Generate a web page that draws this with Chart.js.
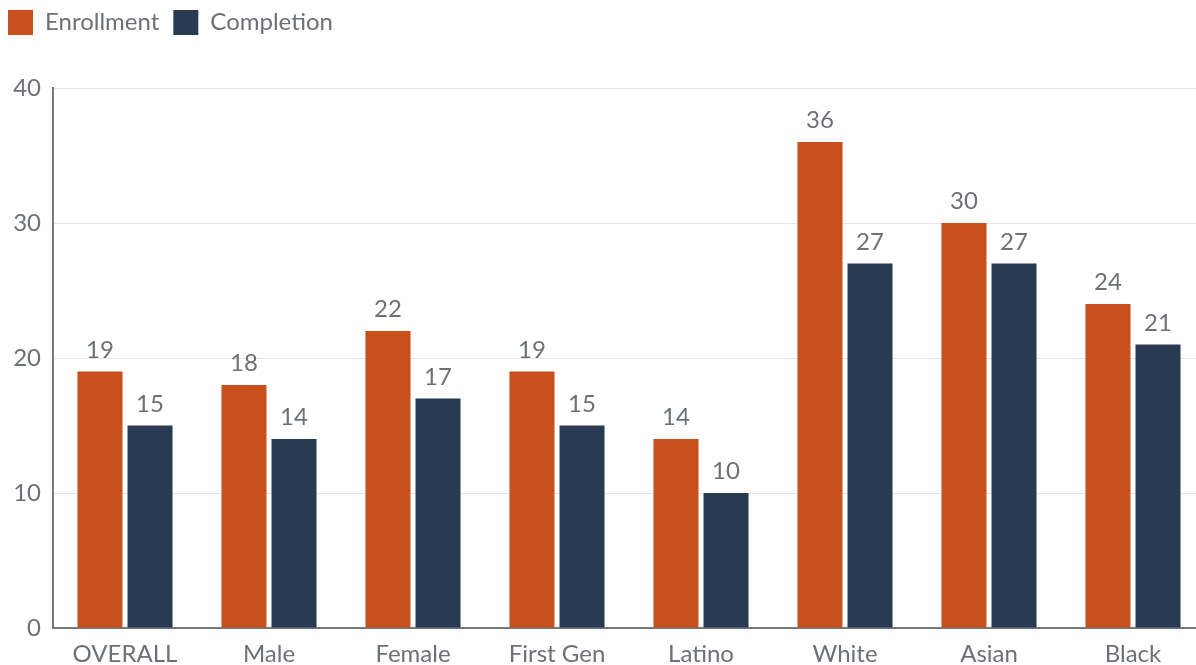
<!DOCTYPE html>
<html lang="en">
<head>
    <meta charset="UTF-8">
    <title>Enrollment and Completion by Group</title>
    <script src="https://cdn.jsdelivr.net/npm/chart.js"></script>
    <style>
        html, body { margin: 0; padding: 0; background: #fff; overflow: hidden; }
        .chart-container { position: relative; width: 1205px; height: 665px; }
    </style>
</head>
<body>
    <div class="chart-container">
        <canvas id="groupChart"></canvas>
    </div>

    <script>
        // Data
        const groups = ['OVERALL', 'Male', 'Female', 'First Gen', 'Latino', 'White', 'Asian', 'Black'];
        const enrollment = [19, 18, 22, 19, 14, 36, 30, 24];
        const completion = [15, 14, 17, 15, 10, 27, 27, 21];
        const yTicks = [0, 10, 20, 30, 40];

        const textGray = '#6d7075';
        const fontFamily = 'Lato, "Open Sans", sans-serif';
        const legendHeight = 92;

        // Print the value above each bar
        const valueLabels = {
            id: 'valueLabels',
            afterDatasetsDraw(chart) {
                const ctx = chart.ctx;
                ctx.save();
                ctx.font = '24px ' + fontFamily;
                ctx.fillStyle = textGray;
                ctx.textAlign = 'center';
                ctx.textBaseline = 'alphabetic';
                chart.data.datasets.forEach((ds, i) => {
                    chart.getDatasetMeta(i).data.forEach((bar, j) => {
                        ctx.fillText(ds.data[j], bar.x, bar.y - 14);
                    });
                });
                ctx.restore();
            }
        };

        // Leave more room between the legend and the plot
        const legendSpace = {
            id: 'legendSpace',
            afterInit(chart) {
                const legend = chart.legend;
                const fit = legend.fit;
                legend.fit = function () {
                    fit.call(this);
                    this.height = legendHeight;
                };
            }
        };

        const config = {
            type: 'bar',
            data: {
                labels: groups,
                datasets: [{
                    label: 'Enrollment',
                    data: enrollment,
                    backgroundColor: '#c9501c'
                }, {
                    label: 'Completion',
                    data: completion,
                    backgroundColor: '#293a53'
                }]
            },
            options: {
                responsive: true,
                maintainAspectRatio: false,
                animation: false,
                layout: { padding: { left: -6, right: 0, top: -4, bottom: 0 } },
                datasets: {
                    bar: { categoryPercentage: 0.695, barPercentage: 0.9 }
                },
                plugins: {
                    legend: {
                        align: 'start',
                        labels: {
                            boxWidth: 25,
                            boxHeight: 25,
                            padding: 14,
                            color: textGray,
                            font: { family: fontFamily, size: 24 }
                        }
                    },
                    tooltip: { enabled: false }
                },
                scales: {
                    x: {
                        grid: { display: false },
                        border: { color: '#75787d', width: 2 },
                        ticks: {
                            color: textGray,
                            font: { family: fontFamily, size: 24 },
                            padding: 4
                        },
                        afterFit(scale) { scale.height = 37; }
                    },
                    y: {
                        min: 0,
                        max: 40,
                        afterBuildTicks(scale) {
                            scale.ticks = yTicks.map(v => ({ value: v }));
                        },
                        grid: { color: '#e6e6e6', lineWidth: 1, drawTicks: false },
                        border: { color: '#75787d', width: 2 },
                        ticks: {
                            color: textGray,
                            font: { family: fontFamily, size: 24 },
                            padding: 12
                        },
                        afterFit(scale) { scale.width = 59; }
                    }
                }
            },
            plugins: [valueLabels, legendSpace]
        };

        new Chart(document.getElementById('groupChart'), config);
    </script>
</body>
</html>
